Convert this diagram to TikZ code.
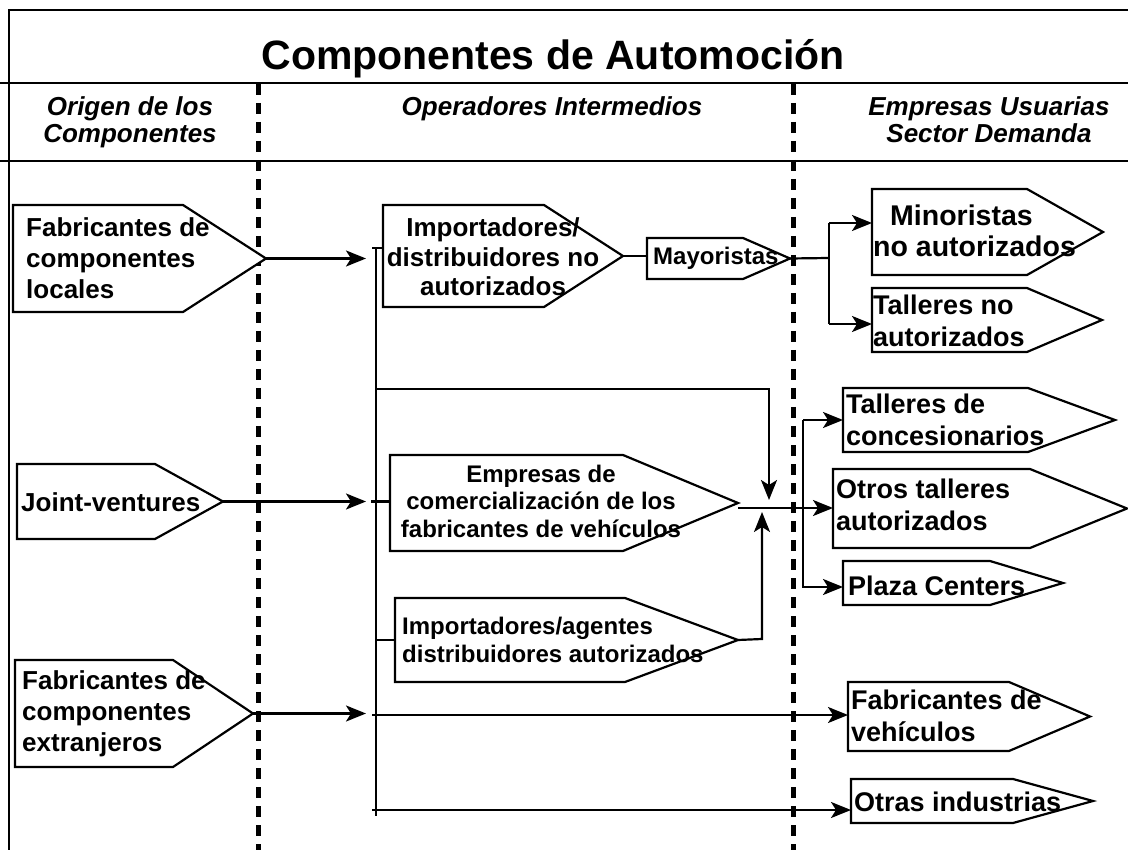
\documentclass[tikz,border=0pt]{standalone}
\usepackage{fontspec}
\setmainfont{Liberation Sans}
\usetikzlibrary{arrows.meta,calc}

\tikzset{
  boxline/.style={draw=black, line width=2.2pt, fill=white, line join=miter},
  conn/.style={draw=black, line width=2.2pt},
  arr/.style={conn, -{Stealth[length=20pt,width=16pt,inset=5pt]}},
  sepline/.style={draw=black, line width=5pt, dash pattern=on 11pt off 8pt},
  frameline/.style={draw=black, line width=2pt},
  hdr/.style={font=\bfseries\itshape\fontsize{26}{27}\selectfont, inner sep=0pt, align=center, anchor=north},
  lblL/.style={font=\bfseries\fontsize{26}{31}\selectfont, inner sep=0pt, align=left, anchor=west},
  lblM/.style={font=\bfseries\fontsize{24}{27.5}\selectfont, inner sep=0pt},
  lblR/.style={font=\bfseries\fontsize{27}{32}\selectfont, inner sep=0pt, align=left, anchor=west},
}

% name, x-left, y-top, x-straight-end, x-tip, y-bottom
\newcommand\pentbox[6]{%
  \draw[boxline] (#2,#3) -- (#4,#3) -- (#5,{(#3+#6)/2}) -- (#4,#6) -- (#2,#6) -- cycle;
  \coordinate (#1-w) at (#2,{(#3+#6)/2});
  \coordinate (#1-tip) at (#5,{(#3+#6)/2});
}

\begin{document}
\begin{tikzpicture}[x=1pt,y=-1pt]
\useasboundingbox (0,0) rectangle (1128,850);
\fill[white] (0,0) rectangle (1128,850);

% frame
\draw[frameline] (9,850) -- (9,10) -- (1128,10);
\draw[frameline] (0,83) -- (1128,83);
\draw[frameline] (0,161) -- (1128,161);

% column separators
\draw[sepline] (258,84) -- (258,850);
\draw[sepline] (793,84) -- (793,850);

% title and headers
\node[font=\bfseries\fontsize{41}{48}\selectfont, inner sep=0pt, anchor=base] (title) at (553,70) {Componentes de Automoción};
\node[hdr] (h1) at (130,96) {Origen de los\\Componentes};
\node[hdr] (h2) at (552,96) {Operadores Intermedios};
\node[hdr] (h3) at (989,96) {Empresas Usuarias\\Sector Demanda};

% boxes
\pentbox{fabloc}{13}{205}{183}{266}{312}
\pentbox{joint}{17}{464}{155}{223}{539}
\pentbox{fabext}{15}{660}{173}{253}{767}
\pentbox{impno}{383}{205}{544}{623}{307}
\pentbox{mayor}{647}{238}{743}{790}{279}
\pentbox{empre}{390}{455}{623}{738}{551}
\pentbox{impaut}{395}{598}{625}{738}{682}
\pentbox{minor}{872}{189}{1027}{1103}{275}
\pentbox{tallno}{872}{288}{1027}{1102}{352}
\pentbox{tallcon}{843}{388}{1028}{1115}{452}
\pentbox{otros}{833}{469}{1030}{1127}{548}
\pentbox{plaza}{843}{561}{990}{1063}{605}
\pentbox{fabveh}{848}{682}{1009}{1090}{751}
\pentbox{otrasind}{851}{779}{1013}{1093}{823}

% box texts
\node[lblL] (t-fabloc) at (26,258) {Fabricantes de\\componentes\\locales};
\node[lblL] (t-joint) at (21,502) {Joint-ventures};
\node[lblL] (t-fabext) at (22,714) {Fabricantes de\\componentes\\extranjeros};
\node[lblM, font=\bfseries\fontsize{26}{29.5}\selectfont, align=center] (t-impno) at (493,257) {Importadores/\\distribuidores no\\autorizados};
\node[lblM, anchor=west] (t-mayor) at (653,258) {Mayoristas};
\node[lblM, align=center] (t-empre) at (541,501) {Empresas de\\comercialización de los\\fabricantes de vehículos};
\node[lblM, align=left, anchor=west] (t-impaut) at (402,640) {Importadores/agentes\\distribuidores autorizados};
\node[lblR, font=\bfseries\fontsize{28.5}{31}\selectfont] (t-minor) at (873,231) {\hspace*{17pt}Minoristas\\no autorizados};
\node[lblR] (t-tallno) at (873,321) {Talleres no\\autorizados};
\node[lblR] (t-tallcon) at (846,420) {Talleres de\\concesionarios};
\node[lblR] (t-otros) at (836,505) {Otros talleres\\autorizados};
\node[lblR] (t-plaza) at (848,586) {Plaza Centers};
\node[lblR] (t-fabveh) at (851,716) {Fabricantes de\\vehículos};
\node[lblR] (t-otrasind) at (854,802) {Otras industrias};

% trunk of the intermediate column
\coordinate (trunktop) at (376,248);
\coordinate (trunkbot) at (376,816);
\draw[conn] (trunktop) -- (trunkbot);
\draw[conn] (372,248) -- (impno-w |- 0,248);

% inputs from the origin column
\draw[arr] (fabloc-tip) -- ([xshift=-10pt]fabloc-tip -| trunktop);
\draw[arr] (joint-tip) -- ([xshift=-10pt]joint-tip -| trunktop);
\draw[arr] (fabext-tip) -- ([xshift=-10pt]fabext-tip -| trunktop);

% intermediate links
\draw[conn] ([xshift=-5pt]joint-tip -| trunktop) -- (empre-w |- joint-tip);
\draw[conn] (impaut-w -| trunktop) -- (impaut-w);
\draw[conn] (impno-tip) -- (mayor-w |- impno-tip);
\coordinate (dn) at (769,389);
\coordinate (up) at (762,639);
\draw[arr] (trunktop |- dn) -- (dn) -- (769,500);
\draw[arr] (impaut-tip) -- (up) -- (762,512);

% to non-authorized users
\coordinate (busA) at (829,258);
\draw[conn] (mayor-tip) -- (busA);
\draw[conn] (829,223) -- (829,324);
\draw[arr] (829,223) -- (minor-w |- 0,223);
\draw[arr] (829,324) -- (tallno-w |- 0,324);

% to authorized users
\coordinate (busB) at (803,508);
\draw[conn] (738,508) -- (busB);
\draw[conn] (803,420) -- (803,588);
\draw[arr] (803,420) -- (tallcon-w |- 0,420);
\draw[arr] (busB) -- (otros-w |- busB);
\draw[arr] (803,587) -- (plaza-w |- 0,587);

% direct lines
\draw[arr] ([xshift=-4pt]trunktop |- 0,715) -- (fabveh-w |- 0,715);
\draw[arr] ([xshift=-4pt]trunktop |- 0,810) -- (otrasind-w |- 0,810);
\end{tikzpicture}
\end{document}
